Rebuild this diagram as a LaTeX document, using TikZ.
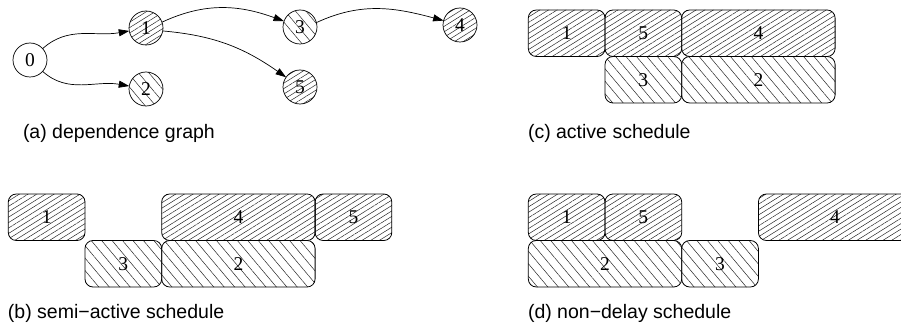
\documentclass[tikz,border=0pt]{standalone}
\usepackage{fontspec}
\setmainfont{Liberation Serif}
\newfontfamily\capfont{Liberation Sans}
\usetikzlibrary{arrows.meta,patterns.meta}

\begin{document}
\begin{tikzpicture}[x=1pt,y=-1pt,
  every node/.style={inner sep=0pt,outer sep=0pt},
  num/.style={font=\fontsize{19.5}{19.5}\selectfont},
  fwd/.style={pattern={Lines[angle=32,distance=4.6pt,line width=0.5pt]},pattern color=black!85},
  bwd/.style={pattern={Lines[angle=-50,distance=8pt,line width=0.5pt]},pattern color=black!85},
  task/.style={circle,draw,line width=0.7pt,minimum size=34pt,num},
  job/.style={draw,line width=0.8pt,rounded corners=8pt,minimum height=46.5pt,anchor=north west,num},
  one/.style={job,minimum width=76.7pt},
  two/.style={job,minimum width=153.4pt},
  dep/.style={line width=0.7pt,-{Triangle[length=10.5pt,width=7pt]}},
  caption/.style={anchor=base west,font=\capfont\fontsize{19.5}{19.5}\selectfont}
]
\clip (0,0) rectangle (901,331);

% (a) dependence graph
\node[task]     (n0) at (30,60)  {0};
\node[task,fwd] (n1) at (146,28) {1};
\node[task,bwd] (n2) at (146,89) {2};
\node[task,bwd] (n3) at (300,27) {3};
\node[task,fwd] (n4) at (460,25) {4};
\node[task,fwd] (n5) at (300,87) {5};
\draw[dep] (n0) to[out=42,in=190] (n1);
\draw[dep] (n0) to[out=-42,in=170] (n2);
\draw[dep] (n1.20) to[out=25,in=160] (n3);
\draw[dep] (n1.-10) to[out=-5,in=145] (n5);
\draw[dep] (n3.15) to[out=25,in=165] (n4);
\node[caption] (ca) at (23,139) {(a) dependence graph};

% (c) active schedule
\node[one,fwd] (c1) at (528.3,10)   {1};
\node[one,fwd] (c5) at (605,10)     {5};
\node[two,fwd] (c4) at (681.7,10)   {4};
\node[one,bwd] (c3) at (605,56.5)   {3};
\node[two,bwd] (c2) at (681.7,56.5) {2};
\node[caption] (cc) at (528,139) {(c) active schedule};

% (b) semi-active schedule
\node[one,fwd] (b1) at (8.3,194)    {1};
\node[two,fwd] (b4) at (161.7,194)  {4};
\node[one,fwd] (b5) at (315.1,194)  {5};
\node[one,bwd] (b3) at (85,240.5)   {3};
\node[two,bwd] (b2) at (161.7,240.5){2};
\node[caption] (cb) at (8,318) {(b) semi\textminus active schedule};

% (d) non-delay schedule
\node[one,fwd] (d1) at (528.3,194)  {1};
\node[one,fwd] (d5) at (605,194)    {5};
\node[two,fwd] (d4) at (758.4,194)  {4};
\node[two,bwd] (d2) at (528.3,240.5){2};
\node[one,bwd] (d3) at (681.7,240.5){3};
\node[caption] (cd) at (528,318) {(d) non\textminus delay schedule};
\end{tikzpicture}
\end{document}
